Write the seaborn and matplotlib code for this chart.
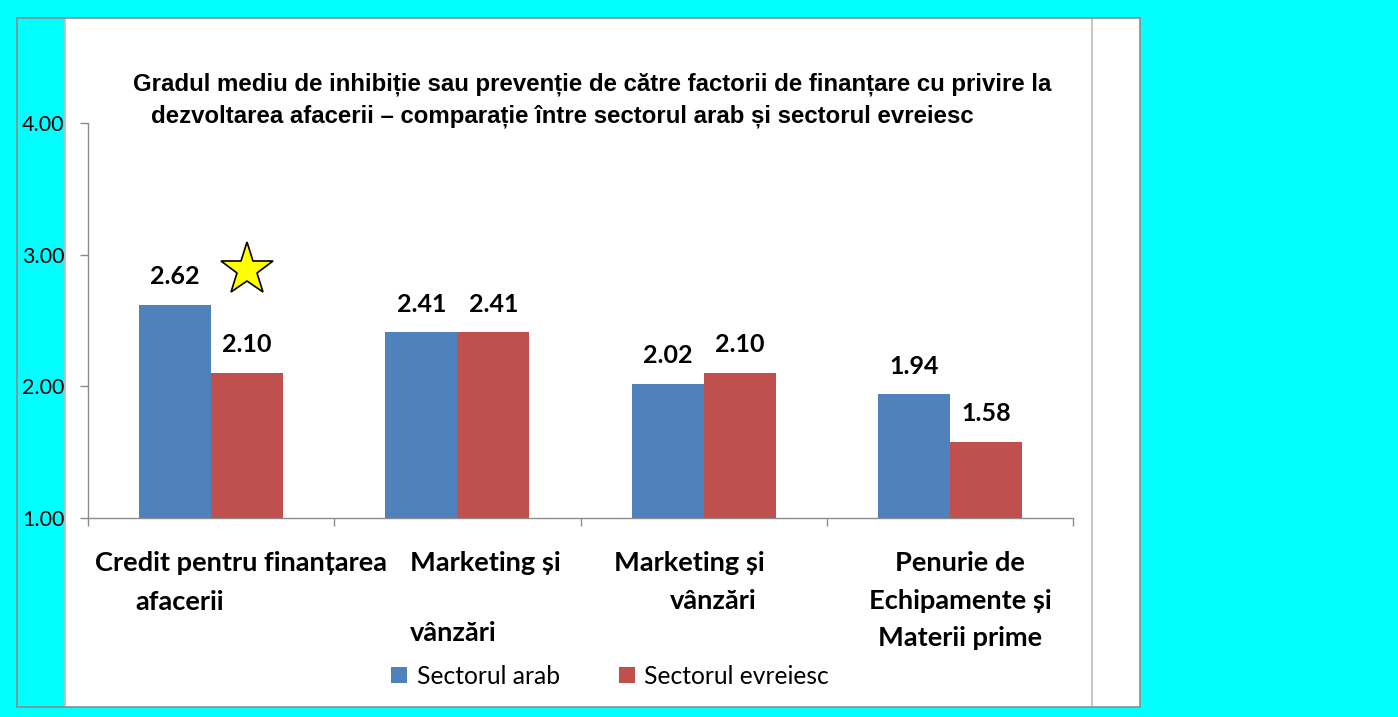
import pandas as pd
import matplotlib.pyplot as plt
import seaborn as sns
from matplotlib.patches import Rectangle
from matplotlib.lines import Line2D

# data
categories = ["Credit", "Marketing1", "Marketing2", "Penurie"]
series = ["Sectorul arab", "Sectorul evreiesc"]
arab = [2.62, 2.41, 2.02, 1.94]
evreiesc = [2.10, 2.41, 2.10, 1.58]
yticks = [1.00, 2.00, 3.00, 4.00]
title_lines = ["Gradul mediu de inhibiție sau prevenție de către factorii de finanțare cu privire la",
               "dezvoltarea afacerii – comparație între sectorul arab și sectorul evreiesc"]
cat_lines = [["Credit pentru finanțarea", "afacerii"],
             ["Marketing și", "", "vânzări"],
             ["Marketing și", "vânzări"],
             ["Penurie de", "Echipamente și", "Materii prime"]]
star_pos = (0.146, 2.88)

colors = ["#4F81BD", "#C0504D"]
W, H = 1398, 717

df = pd.DataFrame({
    "cat": categories * 2,
    "serie": [series[0]] * 4 + [series[1]] * 4,
    "val": arab + evreiesc,
})

sns.set_style("white")
plt.rcParams['font.family'] = ['Lato', 'DejaVu Sans']
plt.rcParams['text.color'] = 'black'
plt.rcParams['ytick.color'] = 'black'
plt.rcParams['xtick.color'] = 'black'

fig = plt.figure(figsize=(W / 100, H / 100), dpi=100, facecolor="#00FFFF")

def fx(x):
    return x / W

def fy(y):
    return 1 - y / H

# frame: cyan strip on the left, white chart area, gray lines
fig.patches.append(Rectangle((fx(65), fy(707)), fx(1140 - 65), (707 - 18) / H,
                             transform=fig.transFigure, facecolor="white", edgecolor="none", zorder=-2))
fig.patches.append(Rectangle((fx(17), fy(707)), fx(1140 - 17), (707 - 18) / H,
                             transform=fig.transFigure, facecolor="none", edgecolor="#8c8c8c", lw=1.2, zorder=-1))
for xv in [65, 1092]:
    fig.lines.append(Line2D([fx(xv), fx(xv)], [fy(707), fy(18)], transform=fig.transFigure,
                            color="#bdbdbd", lw=1.2, zorder=-1))

ax = fig.add_axes([fx(88), fy(518), fx(1073 - 88), (518 - 123) / H])
ax.set_facecolor("none")

sns.barplot(data=df, x="cat", y="val", hue="serie", palette=colors, width=0.585,
            saturation=1, ax=ax, legend=True, zorder=3, linewidth=0)

ax.set_ylim(1, 4)
ax.set_xlim(-0.5, 3.5)
ax.set_yticks(yticks)
ax.set_yticklabels([f"{v:.2f}" for v in yticks], fontsize=15.5)
ax.set_xticks([])
ax.set_xticks([-0.5, 0.5, 1.5, 2.5, 3.5], minor=True)
ax.tick_params(axis="y", direction="out", length=6, width=1, color="#8c8c8c", pad=11, left=True)
ax.tick_params(axis="x", which="minor", direction="out", length=6, width=1, color="#8c8c8c", bottom=True)
ax.set_xlabel("")
ax.set_ylabel("")
for s in ["top", "right"]:
    ax.spines[s].set_visible(False)
for s in ["left", "bottom"]:
    ax.spines[s].set_color("#8c8c8c")
    ax.spines[s].set_linewidth(1)

# value labels
for cont in ax.containers:
    ax.bar_label(cont, fmt="%.2f", padding=12, fontsize=18, fontweight="bold", color="black")

# star
ax.plot(*star_pos, marker="*", markersize=40, markerfacecolor="#FFFF00",
        markeredgecolor="black", markeredgewidth=1.2, clip_on=False, zorder=5)

# legend
handles, labels = ax.get_legend_handles_labels()
ax.legend(handles, labels, loc="center", bbox_to_anchor=(fx(610), fy(676)),
          bbox_transform=fig.transFigure, ncol=2, frameon=False, fontsize=17.7,
          handlelength=0.65, handleheight=0.65, handletextpad=0.4, columnspacing=2.4)

# title
fig.text(fx(592), fy(84), title_lines[0], ha="center", va="center", fontsize=17.25,
         fontweight="bold", family="Liberation Sans")
fig.text(fx(562), fy(116), title_lines[1], ha="center", va="center", fontsize=17.25,
         fontweight="bold", family="Liberation Sans")

# category labels
lab_pos = [[(95, 563, "left"), (135, 602, "left")],
           [(410, 563, "left"), (410, 598, "left"), (410, 633, "left")],
           [(614, 563, "left"), (670, 601, "left")],
           [(960, 563, "center"), (960, 601, "center"), (960, 638, "center")]]
for lines, pos in zip(cat_lines, lab_pos):
    for txt, (x, y, ha) in zip(lines, pos):
        fig.text(fx(x), fy(y), txt, ha=ha, va="center", fontsize=19.6, fontweight="bold")

fig.savefig("out.png", dpi=100, facecolor=fig.get_facecolor())
